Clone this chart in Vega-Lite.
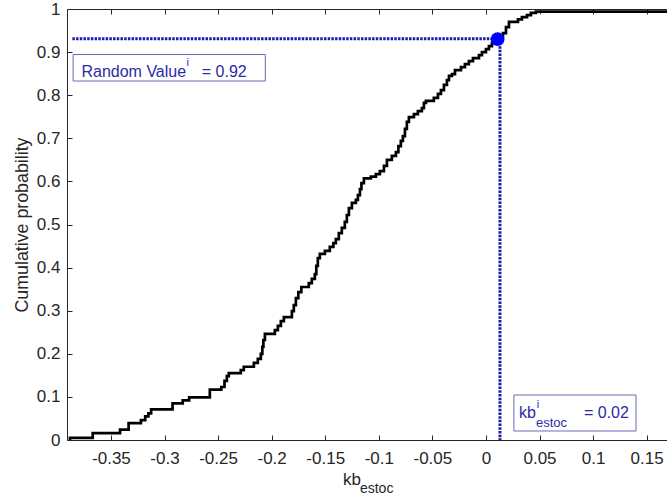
{
  "$schema": "https://vega.github.io/schema/vega-lite/v6.json",
  "width": 600,
  "height": 431,
  "autosize": {"type": "none"},
  "padding": {"left": 67, "top": 9, "right": 0, "bottom": 60},
  "background": "white",
  "config": {
    "view": {"stroke": null},
    "font": "Liberation Sans",
    "axis": {
      "domainColor": "#262626",
      "tickColor": "#262626",
      "labelColor": "#262626",
      "labelFont": "Liberation Sans",
      "labelFontSize": 17,
      "grid": false,
      "domainWidth": 1,
      "tickWidth": 1,
      "labelFlush": false,
      "labelOverlap": false
    }
  },
  "datasets": {
    "cdf": [
      {"x": -0.3885, "p": 0}, {"x": -0.3882, "p": 0.005}, {"x": -0.367, "p": 0.016}, {"x": -0.3415, "p": 0.024},
      {"x": -0.3335, "p": 0.039}, {"x": -0.322, "p": 0.046}, {"x": -0.318, "p": 0.055}, {"x": -0.315, "p": 0.062},
      {"x": -0.3125, "p": 0.071}, {"x": -0.2925, "p": 0.085}, {"x": -0.283, "p": 0.092}, {"x": -0.277, "p": 0.099},
      {"x": -0.2577, "p": 0.117}, {"x": -0.247, "p": 0.123}, {"x": -0.244, "p": 0.137}, {"x": -0.2418, "p": 0.148},
      {"x": -0.24, "p": 0.155}, {"x": -0.2288, "p": 0.162}, {"x": -0.226, "p": 0.17}, {"x": -0.2166, "p": 0.179},
      {"x": -0.2129, "p": 0.188}, {"x": -0.2101, "p": 0.2}, {"x": -0.2087, "p": 0.216}, {"x": -0.2077, "p": 0.232},
      {"x": -0.2063, "p": 0.246}, {"x": -0.197, "p": 0.255}, {"x": -0.1942, "p": 0.265}, {"x": -0.1914, "p": 0.276},
      {"x": -0.1886, "p": 0.285}, {"x": -0.1811, "p": 0.299}, {"x": -0.1793, "p": 0.313}, {"x": -0.1774, "p": 0.329},
      {"x": -0.1751, "p": 0.343}, {"x": -0.1723, "p": 0.355}, {"x": -0.1653, "p": 0.364}, {"x": -0.1625, "p": 0.374},
      {"x": -0.1597, "p": 0.385}, {"x": -0.1583, "p": 0.404}, {"x": -0.1569, "p": 0.422}, {"x": -0.155, "p": 0.432},
      {"x": -0.1503, "p": 0.439}, {"x": -0.1457, "p": 0.448}, {"x": -0.1424, "p": 0.457}, {"x": -0.1401, "p": 0.466},
      {"x": -0.1373, "p": 0.48}, {"x": -0.1345, "p": 0.492}, {"x": -0.1317, "p": 0.506}, {"x": -0.1298, "p": 0.522},
      {"x": -0.1279, "p": 0.538}, {"x": -0.1251, "p": 0.55}, {"x": -0.1214, "p": 0.557}, {"x": -0.1195, "p": 0.568},
      {"x": -0.1176, "p": 0.582}, {"x": -0.1162, "p": 0.596}, {"x": -0.1139, "p": 0.607}, {"x": -0.1074, "p": 0.611},
      {"x": -0.1027, "p": 0.617}, {"x": -0.099, "p": 0.624}, {"x": -0.0952, "p": 0.636}, {"x": -0.0924, "p": 0.65},
      {"x": -0.0878, "p": 0.659}, {"x": -0.084, "p": 0.668}, {"x": -0.0817, "p": 0.682}, {"x": -0.0794, "p": 0.694},
      {"x": -0.0775, "p": 0.705}, {"x": -0.0756, "p": 0.722}, {"x": -0.0738, "p": 0.738}, {"x": -0.0719, "p": 0.749},
      {"x": -0.0672, "p": 0.756}, {"x": -0.0635, "p": 0.763}, {"x": -0.0598, "p": 0.77}, {"x": -0.0579, "p": 0.782},
      {"x": -0.056, "p": 0.787}, {"x": -0.0486, "p": 0.794}, {"x": -0.0448, "p": 0.803}, {"x": -0.042, "p": 0.812},
      {"x": -0.0392, "p": 0.824}, {"x": -0.0364, "p": 0.835}, {"x": -0.0345, "p": 0.845}, {"x": -0.0317, "p": 0.849},
      {"x": -0.0289, "p": 0.858}, {"x": -0.0233, "p": 0.865}, {"x": -0.0196, "p": 0.872}, {"x": -0.0159, "p": 0.879},
      {"x": -0.0121, "p": 0.886}, {"x": -0.0065, "p": 0.893}, {"x": -0.0037, "p": 0.9}, {"x": 0.0, "p": 0.907},
      {"x": 0.0028, "p": 0.914}, {"x": 0.0056, "p": 0.921}, {"x": 0.0093, "p": 0.928}, {"x": 0.0131, "p": 0.935},
      {"x": 0.0159, "p": 0.944}, {"x": 0.0187, "p": 0.958}, {"x": 0.0215, "p": 0.97}, {"x": 0.0299, "p": 0.976},
      {"x": 0.0336, "p": 0.981}, {"x": 0.0383, "p": 0.986}, {"x": 0.042, "p": 0.991}, {"x": 0.0467, "p": 0.994},
      {"x": 0.17, "p": 0.994}
    ],
    "one": [{}]
  },
  "resolve": {"axis": {"x": "independent", "y": "independent"}},
  "layer": [
    {
      "data": {"name": "cdf"},
      "mark": {"type": "line", "interpolate": "step-after", "color": "black", "strokeWidth": 2.7, "clip": true},
      "encoding": {
        "x": {"field": "x", "type": "quantitative",
          "scale": {"domain": [-0.391, 0.169], "nice": false, "zero": false},
          "axis": {"orient": "bottom", "values": [-0.35, -0.3, -0.25, -0.2, -0.15, -0.1, -0.05, 0, 0.05, 0.1, 0.15],
            "labelExpr": "toString(datum.value)", "title": null, "ticks": false, "labelPadding": 10}},
        "y": {"field": "p", "type": "quantitative",
          "scale": {"domain": [0, 1], "nice": false, "zero": false},
          "axis": {"orient": "left", "values": [0, 0.1, 0.2, 0.3, 0.4, 0.5, 0.6, 0.7, 0.8, 0.9, 1],
            "labelExpr": "toString(datum.value)", "ticks": false, "labelPadding": 7,
            "title": "Cumulative probability", "titleX": -40, "titleY": 215.5, "titleAngle": -90,
            "titleAlign": "center", "titleBaseline": "alphabetic", "titleFontSize": 17.8,
            "titleFontWeight": "normal", "titleColor": "#262626", "titleFont": "Liberation Sans"}}
      }
    },
    {
      "data": {"name": "one"},
      "mark": {"type": "rule", "color": "#1c1ca8", "strokeWidth": 3, "strokeDash": [2.5, 1.2]},
      "encoding": {
        "x": {"datum": -0.386, "type": "quantitative", "scale": {"domain": [-0.391, 0.169], "nice": false, "zero": false},
          "axis": {"orient": "top", "offset": -431, "values": [-0.35, -0.3, -0.25, -0.2, -0.15, -0.1, -0.05, 0, 0.05, 0.1, 0.15],
            "labels": false, "domain": false, "title": null, "ticks": true, "tickSize": 5}},
        "x2": {"datum": 0.0109},
        "y": {"datum": 0.931, "type": "quantitative", "scale": {"domain": [0, 1], "nice": false, "zero": false},
          "axis": {"orient": "right", "offset": -600, "values": [0, 0.1, 0.2, 0.3, 0.4, 0.5, 0.6, 0.7, 0.8, 0.9, 1],
            "labels": false, "domain": false, "title": null, "ticks": true, "tickSize": 5}}
      }
    },
    {
      "data": {"name": "one"},
      "mark": {"type": "rule", "color": "#1c1ca8", "strokeWidth": 3, "strokeDash": [2.5, 1.2]},
      "encoding": {
        "x": {"datum": 0.0131, "type": "quantitative", "scale": {"domain": [-0.391, 0.169], "nice": false, "zero": false},
          "axis": {"orient": "bottom", "offset": -431, "values": [-0.35, -0.3, -0.25, -0.2, -0.15, -0.1, -0.05, 0, 0.05, 0.1, 0.15],
            "labels": false, "domain": true, "title": null, "ticks": true, "tickSize": 5}},
        "y": {"datum": 0.931, "type": "quantitative", "scale": {"domain": [0, 1], "nice": false, "zero": false}, "axis": null},
        "y2": {"datum": 0}
      }
    },
    {
      "data": {"name": "one"},
      "mark": {"type": "point", "filled": true, "color": "#0000ff", "size": 190, "opacity": 1},
      "encoding": {
        "x": {"datum": 0.0109, "type": "quantitative", "scale": {"domain": [-0.391, 0.169], "nice": false, "zero": false}, "axis": null},
        "y": {"datum": 0.93, "type": "quantitative", "scale": {"domain": [0, 1], "nice": false, "zero": false}, "axis": null}
      }
    },
    {
      "data": {"name": "one"},
      "mark": {"type": "rect", "fill": "white", "stroke": "#6a6ab6", "strokeWidth": 1},
      "encoding": {
        "x": {"datum": -0.3853, "type": "quantitative", "scale": {"domain": [-0.391, 0.169], "nice": false, "zero": false}, "axis": null},
        "x2": {"datum": -0.2059},
        "y": {"datum": 0.8944, "type": "quantitative", "scale": {"domain": [0, 1], "nice": false, "zero": false}, "axis": null},
        "y2": {"datum": 0.8329}
      }
    },
    {
      "data": {"name": "one"},
      "mark": {"type": "rect", "fill": "white", "stroke": "#6a6ab6", "strokeWidth": 1},
      "encoding": {
        "x": {"datum": 0.0261, "type": "quantitative", "scale": {"domain": [-0.391, 0.169], "nice": false, "zero": false}, "axis": null},
        "x2": {"datum": 0.1401},
        "y": {"datum": 0.1044, "type": "quantitative", "scale": {"domain": [0, 1], "nice": false, "zero": false}, "axis": null},
        "y2": {"datum": 0.0209}
      }
    },
    {
      "data": {"name": "one"},
      "mark": {"type": "text", "text": "Random Value", "align": "left", "baseline": "alphabetic", "fontSize": 16, "color": "#2b2ba6", "font": "Liberation Sans"},
      "encoding": {
        "x": {"datum": -0.3775, "type": "quantitative", "scale": {"domain": [-0.391, 0.169], "nice": false, "zero": false}, "axis": null},
        "y": {"datum": 0.8422, "type": "quantitative", "scale": {"domain": [0, 1], "nice": false, "zero": false}, "axis": null}
      }
    },
    {
      "data": {"name": "one"},
      "mark": {"type": "text", "text": "i", "align": "left", "baseline": "alphabetic", "fontSize": 11, "color": "#2b2ba6", "font": "Liberation Sans"},
      "encoding": {
        "x": {"datum": -0.2794, "type": "quantitative", "scale": {"domain": [-0.391, 0.169], "nice": false, "zero": false}, "axis": null},
        "y": {"datum": 0.8675, "type": "quantitative", "scale": {"domain": [0, 1], "nice": false, "zero": false}, "axis": null}
      }
    },
    {
      "data": {"name": "one"},
      "mark": {"type": "text", "text": "= 0.92", "align": "left", "baseline": "alphabetic", "fontSize": 16, "color": "#2b2ba6", "font": "Liberation Sans"},
      "encoding": {
        "x": {"datum": -0.2652, "type": "quantitative", "scale": {"domain": [-0.391, 0.169], "nice": false, "zero": false}, "axis": null},
        "y": {"datum": 0.8422, "type": "quantitative", "scale": {"domain": [0, 1], "nice": false, "zero": false}, "axis": null}
      }
    },
    {
      "data": {"name": "one"},
      "mark": {"type": "text", "text": "kb", "align": "left", "baseline": "alphabetic", "fontSize": 16, "color": "#2b2ba6", "font": "Liberation Sans"},
      "encoding": {
        "x": {"datum": 0.0308, "type": "quantitative", "scale": {"domain": [-0.391, 0.169], "nice": false, "zero": false}, "axis": null},
        "y": {"datum": 0.051, "type": "quantitative", "scale": {"domain": [0, 1], "nice": false, "zero": false}, "axis": null}
      }
    },
    {
      "data": {"name": "one"},
      "mark": {"type": "text", "text": "i", "align": "left", "baseline": "alphabetic", "fontSize": 11, "color": "#2b2ba6", "font": "Liberation Sans"},
      "encoding": {
        "x": {"datum": 0.0474, "type": "quantitative", "scale": {"domain": [-0.391, 0.169], "nice": false, "zero": false}, "axis": null},
        "y": {"datum": 0.0745, "type": "quantitative", "scale": {"domain": [0, 1], "nice": false, "zero": false}, "axis": null}
      }
    },
    {
      "data": {"name": "one"},
      "mark": {"type": "text", "text": "estoc", "align": "left", "baseline": "alphabetic", "fontSize": 13, "color": "#2b2ba6", "font": "Liberation Sans"},
      "encoding": {
        "x": {"datum": 0.0467, "type": "quantitative", "scale": {"domain": [-0.391, 0.169], "nice": false, "zero": false}, "axis": null},
        "y": {"datum": 0.0302, "type": "quantitative", "scale": {"domain": [0, 1], "nice": false, "zero": false}, "axis": null}
      }
    },
    {
      "data": {"name": "one"},
      "mark": {"type": "text", "text": "= 0.02", "align": "left", "baseline": "alphabetic", "fontSize": 16, "color": "#2b2ba6", "font": "Liberation Sans"},
      "encoding": {
        "x": {"datum": 0.0915, "type": "quantitative", "scale": {"domain": [-0.391, 0.169], "nice": false, "zero": false}, "axis": null},
        "y": {"datum": 0.051, "type": "quantitative", "scale": {"domain": [0, 1], "nice": false, "zero": false}, "axis": null}
      }
    },
    {
      "data": {"name": "one"},
      "mark": {"type": "text", "text": "kb", "align": "left", "baseline": "alphabetic", "fontSize": 17, "color": "#262626", "font": "Liberation Sans"},
      "encoding": {
        "x": {"datum": -0.1335, "type": "quantitative", "scale": {"domain": [-0.391, 0.169], "nice": false, "zero": false}, "axis": null},
        "y": {"datum": -0.1044, "type": "quantitative", "scale": {"domain": [0, 1], "nice": false, "zero": false}, "axis": null}
      }
    },
    {
      "data": {"name": "one"},
      "mark": {"type": "text", "text": "estoc", "align": "left", "baseline": "alphabetic", "fontSize": 14, "color": "#262626", "font": "Liberation Sans"},
      "encoding": {
        "x": {"datum": -0.1176, "type": "quantitative", "scale": {"domain": [-0.391, 0.169], "nice": false, "zero": false}, "axis": null},
        "y": {"datum": -0.123, "type": "quantitative", "scale": {"domain": [0, 1], "nice": false, "zero": false}, "axis": null}
      }
    }
  ]
}
